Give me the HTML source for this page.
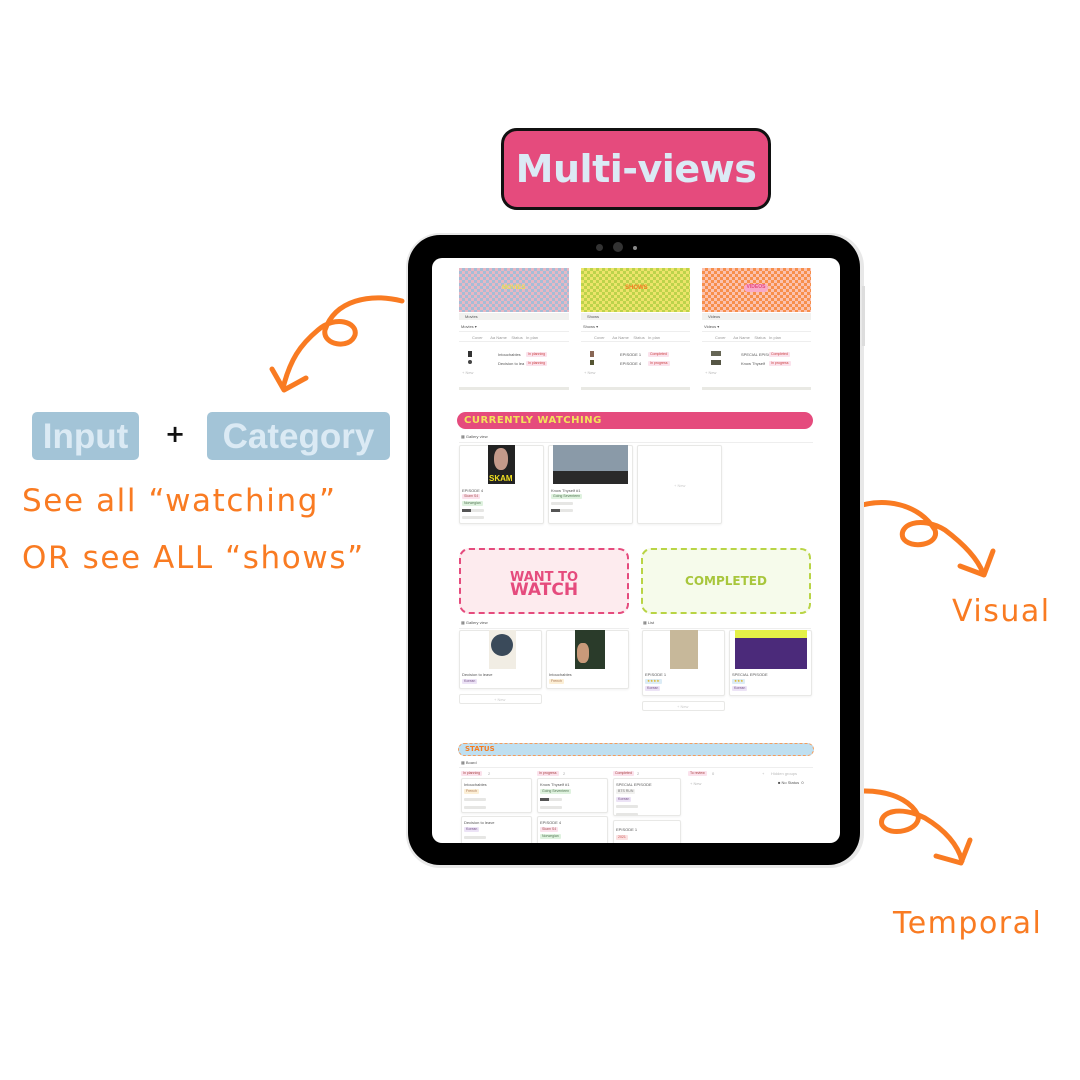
<!DOCTYPE html>
<html><head><meta charset="utf-8"><style>
*{margin:0;padding:0;box-sizing:border-box}
body{width:1080px;height:1080px;background:#fff;position:relative;overflow:hidden;font-family:"Liberation Sans",sans-serif}
.a{position:absolute}
.or{color:#f97b22;font-family:"DejaVu Sans","Liberation Sans",sans-serif;position:absolute;white-space:nowrap}
.t{position:absolute;font-size:4px;color:#555;white-space:nowrap;line-height:5px}
.tag{position:absolute;font-size:3.5px;padding:0 2px;border-radius:1px;line-height:5px;white-space:nowrap}
.card{position:absolute;background:#fff;border:1px solid #e8e8e6;border-radius:2px;box-shadow:0 1px 2px rgba(0,0,0,.06)}
.bar{position:absolute;height:3px;background:#e6e6e4;border-radius:1px}
</style></head><body>

<!-- title -->
<div class="a" style="left:501px;top:128px;width:270px;height:82px;background:#e54b7d;border:3px solid #111;border-radius:16px;color:#dbeaf5;font:bold 38px 'DejaVu Sans',sans-serif;text-align:center;line-height:76px;white-space:nowrap;letter-spacing:-0.5px">Multi-views</div>

<!-- input + category -->
<div class="a" style="left:32px;top:412px;width:107px;height:48px;background:#a3c4d7;border-radius:5px;color:#dbeaf4;font:bold 35px 'Liberation Sans',sans-serif;line-height:50px;text-align:center;white-space:nowrap">Input</div>
<div class="a" style="left:165px;top:420px;font:bold 24px 'DejaVu Sans',sans-serif;color:#111">+</div>
<div class="a" style="left:207px;top:412px;width:183px;height:48px;background:#a3c4d7;border-radius:5px;color:#dbeaf4;font:bold 35px 'Liberation Sans',sans-serif;line-height:50px;text-align:center;white-space:nowrap">Category</div>
<div class="or" style="left:22px;top:483px;font-size:31px;letter-spacing:1.6px">See all “watching”</div>
<div class="or" style="left:22px;top:540px;font-size:31px;letter-spacing:1.6px">OR see ALL “shows”</div>
<div class="or" style="left:952px;top:594px;font-size:30px;letter-spacing:1.5px">Visual</div>
<div class="or" style="left:893px;top:906px;font-size:30px;letter-spacing:1.5px">Temporal</div>

<!-- arrows -->
<svg class="a" style="left:0;top:0" width="1080" height="1080" fill="none" stroke="#f97b22" stroke-width="5" stroke-linecap="round" stroke-linejoin="round">
<path d="M402,301 C370,293 335,300 325,330 C322,345 350,350 355,335 C358,322 335,315 318,330 C300,345 290,360 283,388"/>
<path d="M272,369 L284,390 L306,378"/>
<path d="M850,509 C885,495 920,505 935,530 C940,545 910,550 903,538 C898,525 920,515 945,530 C965,545 978,560 983,573"/>
<path d="M960,566 L984,575 L993,551"/>
<path d="M828,798 C860,785 905,790 918,815 C922,830 890,838 882,825 C878,812 900,805 925,818 C945,830 958,845 962,861"/>
<path d="M936,856 L961,863 L970,840"/>
</svg>

<!-- tablet -->
<div class="a" style="left:406px;top:233px;width:458px;height:635px;border-radius:34px;background:#e8e8e8"></div>
<div class="a" style="left:408px;top:235px;width:452px;height:630px;border-radius:32px;background:#000"></div>
<div class="a" style="left:862px;top:286px;width:3px;height:60px;background:#ddd"></div>
<div class="a" style="left:596px;top:244px;width:7px;height:7px;border-radius:50%;background:#333"></div>
<div class="a" style="left:613px;top:242px;width:10px;height:10px;border-radius:50%;background:#333"></div>
<div class="a" style="left:633px;top:246px;width:4px;height:4px;border-radius:50%;background:#888"></div>

<!-- screen -->
<div class="a" style="left:432px;top:258px;width:408px;height:585px;background:#fff;border-radius:10px;overflow:hidden">
<div class="a" style="left:0;top:0;width:408px;height:585px">
<div class="a" style="left:27px;top:10px;width:110px;height:44px;background:#e8b9c6;background-image:repeating-conic-gradient(#a6bdd6 0 25%,#e7b7c4 0 50%);background-size:6px 6px"></div>
<div class="a" style="left:70px;top:27px;font:bold 6px sans-serif;color:#f1df4c">MOVIES</div>
<div class="a" style="left:149px;top:10px;width:109px;height:44px;background-image:repeating-conic-gradient(#bcd34b 0 25%,#ede46a 0 50%);background-size:6px 6px"></div>
<div class="a" style="left:193px;top:27px;font:bold 6px sans-serif;color:#f57c22">SHOWS</div>
<div class="a" style="left:270px;top:10px;width:109px;height:44px;background-image:repeating-conic-gradient(#f78f4c 0 25%,#fbc2b0 0 50%);background-size:6px 6px"></div>
<div class="a" style="left:312px;top:26px;width:24px;height:8px;border-radius:4px;background:#f8a9c6;font:bold 5px sans-serif;color:#e54b7d;text-align:center">VIDEOS</div>
<div class="a" style="left:27px;top:55px;width:110px;height:7px;background:#f1f1ef"></div>
<div class="a" style="left:149px;top:55px;width:109px;height:7px;background:#f1f1ef"></div>
<div class="a" style="left:270px;top:55px;width:109px;height:7px;background:#f1f1ef"></div>
<div class="t" style="left:33px;top:56px">Movies</div><div class="t" style="left:155px;top:56px">Shows</div><div class="t" style="left:276px;top:56px">Videos</div>
<div class="t" style="left:29px;top:66px">Movies ▾</div><div class="t" style="left:151px;top:66px">Shows ▾</div><div class="t" style="left:272px;top:66px">Videos ▾</div>
<div class="a" style="left:27px;top:73px;width:110px;height:11px;border-top:1px solid #eee;border-bottom:1px solid #eee"></div>
<div class="a" style="left:149px;top:73px;width:109px;height:11px;border-top:1px solid #eee;border-bottom:1px solid #eee"></div>
<div class="a" style="left:270px;top:73px;width:109px;height:11px;border-top:1px solid #eee;border-bottom:1px solid #eee"></div>
<div class="t" style="left:40px;top:77px;color:#999">Cover &nbsp;&nbsp;&nbsp;&nbsp;&nbsp; Aa Name &nbsp;&nbsp; Status &nbsp; In plan</div>
<div class="t" style="left:162px;top:77px;color:#999">Cover &nbsp;&nbsp;&nbsp;&nbsp;&nbsp; Aa Name &nbsp;&nbsp; Status &nbsp; In plan</div>
<div class="t" style="left:283px;top:77px;color:#999">Cover &nbsp;&nbsp;&nbsp;&nbsp;&nbsp; Aa Name &nbsp;&nbsp; Status &nbsp; In plan</div>
<div class="a" style="left:36px;top:93px;width:4px;height:6px;background:#333"></div><div class="a" style="left:36px;top:102px;width:4px;height:4px;background:#444;border-radius:50%"></div>
<div class="a" style="left:158px;top:93px;width:4px;height:6px;background:#865"></div><div class="a" style="left:158px;top:102px;width:4px;height:5px;background:#553"></div>
<div class="a" style="left:279px;top:93px;width:10px;height:5px;background:#665"></div><div class="a" style="left:279px;top:102px;width:10px;height:5px;background:#554"></div>
<div class="t" style="left:66px;top:94px">Intouchables</div><div class="tag" style="left:94px;top:94px;background:#fbe2ec;color:#c44">In planning</div>
<div class="t" style="left:66px;top:103px">Decision to lea</div><div class="tag" style="left:94px;top:103px;background:#fbe2ec;color:#c44">In planning</div>
<div class="t" style="left:188px;top:94px">EPISODE 1</div><div class="tag" style="left:216px;top:94px;background:#fbe2ec;color:#c44">Completed</div>
<div class="t" style="left:188px;top:103px">EPISODE 4</div><div class="tag" style="left:216px;top:103px;background:#fbe2ec;color:#c44">In progress</div>
<div class="t" style="left:309px;top:94px">SPECIAL EPISC</div><div class="tag" style="left:337px;top:94px;background:#fbe2ec;color:#c44">Completed</div>
<div class="t" style="left:309px;top:103px">Know Thyself</div><div class="tag" style="left:337px;top:103px;background:#fbe2ec;color:#c44">In progress</div>
<div class="t" style="left:30px;top:112px;color:#bbb">+ New</div><div class="t" style="left:152px;top:112px;color:#bbb">+ New</div><div class="t" style="left:273px;top:112px;color:#bbb">+ New</div>
<div class="a" style="left:27px;top:129px;width:110px;height:3px;background:#e9e9e4"></div>
<div class="a" style="left:149px;top:129px;width:109px;height:3px;background:#e9e9e4"></div>
<div class="a" style="left:270px;top:129px;width:109px;height:3px;background:#e9e9e4"></div>

<div class="a" style="left:25px;top:154px;width:356px;height:17px;background:#e54b7d;border-radius:9px;font:bold 10px 'DejaVu Sans',sans-serif;color:#f3e25a;line-height:17px;padding-left:7px;letter-spacing:0.5px">CURRENTLY WATCHING</div>
<div class="t" style="left:29px;top:176px">▦ Gallery view</div>
<div class="a" style="left:27px;top:184px;width:354px;height:1px;background:#eee"></div>
<div class="card" style="left:27px;top:187px;width:85px;height:79px"></div>
<div class="a" style="left:56px;top:187px;width:27px;height:39px;background:#222"></div>
<div class="a" style="left:62px;top:190px;width:14px;height:22px;background:#c49a8a;border-radius:45%"></div>
<div class="a" style="left:57px;top:216px;font:bold 8px sans-serif;color:#f0e020">SKAM</div>
<div class="card" style="left:116px;top:187px;width:85px;height:79px"></div>
<div class="a" style="left:121px;top:187px;width:75px;height:39px;background:#8a9aa8"></div>
<div class="a" style="left:121px;top:213px;width:75px;height:13px;background:#2a2a2a"></div>
<div class="card" style="left:205px;top:187px;width:85px;height:79px"></div>
<div class="t" style="left:242px;top:225px;color:#ccc">+ New</div>
<div class="t" style="left:30px;top:230px">EPISODE 4</div>
<div class="tag" style="left:30px;top:236px;background:#fbe2ec;color:#a55">Skam S4</div>
<div class="tag" style="left:30px;top:243px;background:#dff2df;color:#575">Norwegian</div>
<div class="bar" style="left:30px;top:251px;width:22px"></div><div class="a" style="left:30px;top:251px;width:9px;height:3px;background:#555"></div>
<div class="bar" style="left:30px;top:258px;width:22px"></div>
<div class="t" style="left:119px;top:230px">Know Thyself #1</div>
<div class="tag" style="left:119px;top:236px;background:#dff2df;color:#575">Going Seventeen</div>
<div class="bar" style="left:119px;top:244px;width:22px"></div>
<div class="bar" style="left:119px;top:251px;width:22px"></div><div class="a" style="left:119px;top:251px;width:9px;height:3px;background:#555"></div>

<div class="a" style="left:27px;top:290px;width:170px;height:66px;background:#fdebee;border:2px dashed #e54b7d;border-radius:10px;text-align:center;font:bold 13px 'DejaVu Sans',sans-serif;color:#e54b7d;line-height:13px;padding-top:21px">WANT TO<br><span style="font-size:17px">WATCH</span></div>
<div class="a" style="left:209px;top:290px;width:170px;height:66px;background:#f6fbeb;border:2px dashed #b9d445;border-radius:10px;text-align:center;font:bold 12px 'DejaVu Sans',sans-serif;color:#a8c63c;line-height:62px">COMPLETED</div>
<div class="t" style="left:29px;top:362px">▦ Gallery view</div><div class="t" style="left:211px;top:362px">▦ List</div>
<div class="a" style="left:27px;top:370px;width:170px;height:1px;background:#eee"></div>
<div class="a" style="left:209px;top:370px;width:170px;height:1px;background:#eee"></div>
<div class="card" style="left:27px;top:372px;width:83px;height:59px"></div>
<div class="card" style="left:114px;top:372px;width:83px;height:59px"></div>
<div class="card" style="left:210px;top:372px;width:83px;height:66px"></div>
<div class="card" style="left:297px;top:372px;width:83px;height:66px"></div>
<div class="a" style="left:57px;top:372px;width:27px;height:39px;background:#f1ede4"></div>
<div class="a" style="left:59px;top:376px;width:22px;height:22px;border-radius:50%;background:#3a4a5a"></div>
<div class="a" style="left:143px;top:372px;width:30px;height:39px;background:#2a3b2a"></div>
<div class="a" style="left:145px;top:385px;width:12px;height:20px;background:#c99a7a;border-radius:40%"></div>
<div class="a" style="left:238px;top:372px;width:28px;height:39px;background:#c7b89a"></div>
<div class="a" style="left:303px;top:372px;width:72px;height:39px;background:#4b2a7a"></div>
<div class="a" style="left:303px;top:372px;width:72px;height:8px;background:#e4f047"></div>
<div class="t" style="left:30px;top:414px">Decision to leave</div><div class="tag" style="left:30px;top:421px;background:#ece3f6;color:#758">Korean</div>
<div class="t" style="left:117px;top:414px">Intouchables</div><div class="tag" style="left:117px;top:421px;background:#fcefd6;color:#a75">French</div>
<div class="t" style="left:213px;top:414px">EPISODE 1</div><div class="tag" style="left:213px;top:421px;background:#dcecf6;color:#da0">★★★★</div><div class="tag" style="left:213px;top:428px;background:#ece3f6;color:#758">Korean</div>
<div class="t" style="left:300px;top:414px">SPECIAL EPISODE</div><div class="tag" style="left:300px;top:421px;background:#dcecf6;color:#da0">★★★</div><div class="tag" style="left:300px;top:428px;background:#ece3f6;color:#758">Korean</div>
<div class="card" style="left:27px;top:436px;width:83px;height:10px;box-shadow:none"></div><div class="t" style="left:62px;top:439px;color:#ccc">+ New</div>
<div class="card" style="left:210px;top:443px;width:83px;height:10px;box-shadow:none"></div><div class="t" style="left:245px;top:446px;color:#ccc">+ New</div>

<div class="a" style="left:26px;top:485px;width:356px;height:13px;background:#bfdff0;border:1px dashed #f59c5c;border-radius:7px;font:bold 7px 'DejaVu Sans',sans-serif;color:#f57c22;line-height:11px;padding-left:6px">STATUS</div>
<div class="t" style="left:29px;top:502px">▦ Board</div>
<div class="a" style="left:27px;top:509px;width:354px;height:1px;background:#eee"></div>
<div class="tag" style="left:29px;top:513px;background:#fbe2ec;color:#a44">In planning</div><div class="t" style="left:56px;top:513px;color:#aaa">2</div>
<div class="tag" style="left:105px;top:513px;background:#fbe2ec;color:#a44">In progress</div><div class="t" style="left:131px;top:513px;color:#aaa">2</div>
<div class="tag" style="left:181px;top:513px;background:#fbe2ec;color:#a44">Completed</div><div class="t" style="left:205px;top:513px;color:#aaa">2</div>
<div class="tag" style="left:256px;top:513px;background:#fbe2ec;color:#a44">To review</div><div class="t" style="left:280px;top:513px;color:#aaa">0</div>
<div class="t" style="left:330px;top:513px;color:#bbb">+ &nbsp;&nbsp;&nbsp;&nbsp; Hidden groups</div>
<div class="t" style="left:258px;top:523px;color:#bbb">+ New</div>
<div class="t" style="left:346px;top:522px">■ No Status &nbsp;0</div>
<div class="card" style="left:29px;top:520px;width:71px;height:35px"></div>
<div class="card" style="left:29px;top:558px;width:71px;height:35px"></div>
<div class="card" style="left:105px;top:520px;width:71px;height:35px"></div>
<div class="card" style="left:105px;top:558px;width:71px;height:35px"></div>
<div class="card" style="left:181px;top:520px;width:68px;height:38px"></div>
<div class="card" style="left:181px;top:562px;width:68px;height:30px"></div>
<div class="t" style="left:32px;top:524px">Intouchables</div><div class="tag" style="left:32px;top:531px;background:#fcefd6;color:#a75">French</div>
<div class="bar" style="left:32px;top:540px;width:22px"></div><div class="bar" style="left:32px;top:548px;width:22px"></div>
<div class="t" style="left:32px;top:562px">Decision to leave</div><div class="tag" style="left:32px;top:569px;background:#ece3f6;color:#758">Korean</div>
<div class="bar" style="left:32px;top:578px;width:22px"></div>
<div class="t" style="left:108px;top:524px">Know Thyself #1</div><div class="tag" style="left:108px;top:531px;background:#dff2df;color:#575">Going Seventeen</div>
<div class="bar" style="left:108px;top:540px;width:22px"></div><div class="a" style="left:108px;top:540px;width:9px;height:3px;background:#555"></div><div class="bar" style="left:108px;top:548px;width:22px"></div>
<div class="t" style="left:108px;top:562px">EPISODE 4</div><div class="tag" style="left:108px;top:569px;background:#fbe2ec;color:#a55">Skam S4</div><div class="tag" style="left:108px;top:576px;background:#dff2df;color:#575">Norwegian</div>
<div class="t" style="left:184px;top:524px">SPECIAL EPISODE</div><div class="tag" style="left:184px;top:531px;background:#f1f1ef;color:#777">BTS RUN</div><div class="tag" style="left:184px;top:539px;background:#ece3f6;color:#758">Korean</div>
<div class="bar" style="left:184px;top:547px;width:22px"></div><div class="bar" style="left:184px;top:555px;width:22px"></div>
<div class="t" style="left:184px;top:569px">EPISODE 1</div><div class="tag" style="left:184px;top:577px;background:#fbe2e2;color:#c55">2021</div>
</div></div>
</body></html>
